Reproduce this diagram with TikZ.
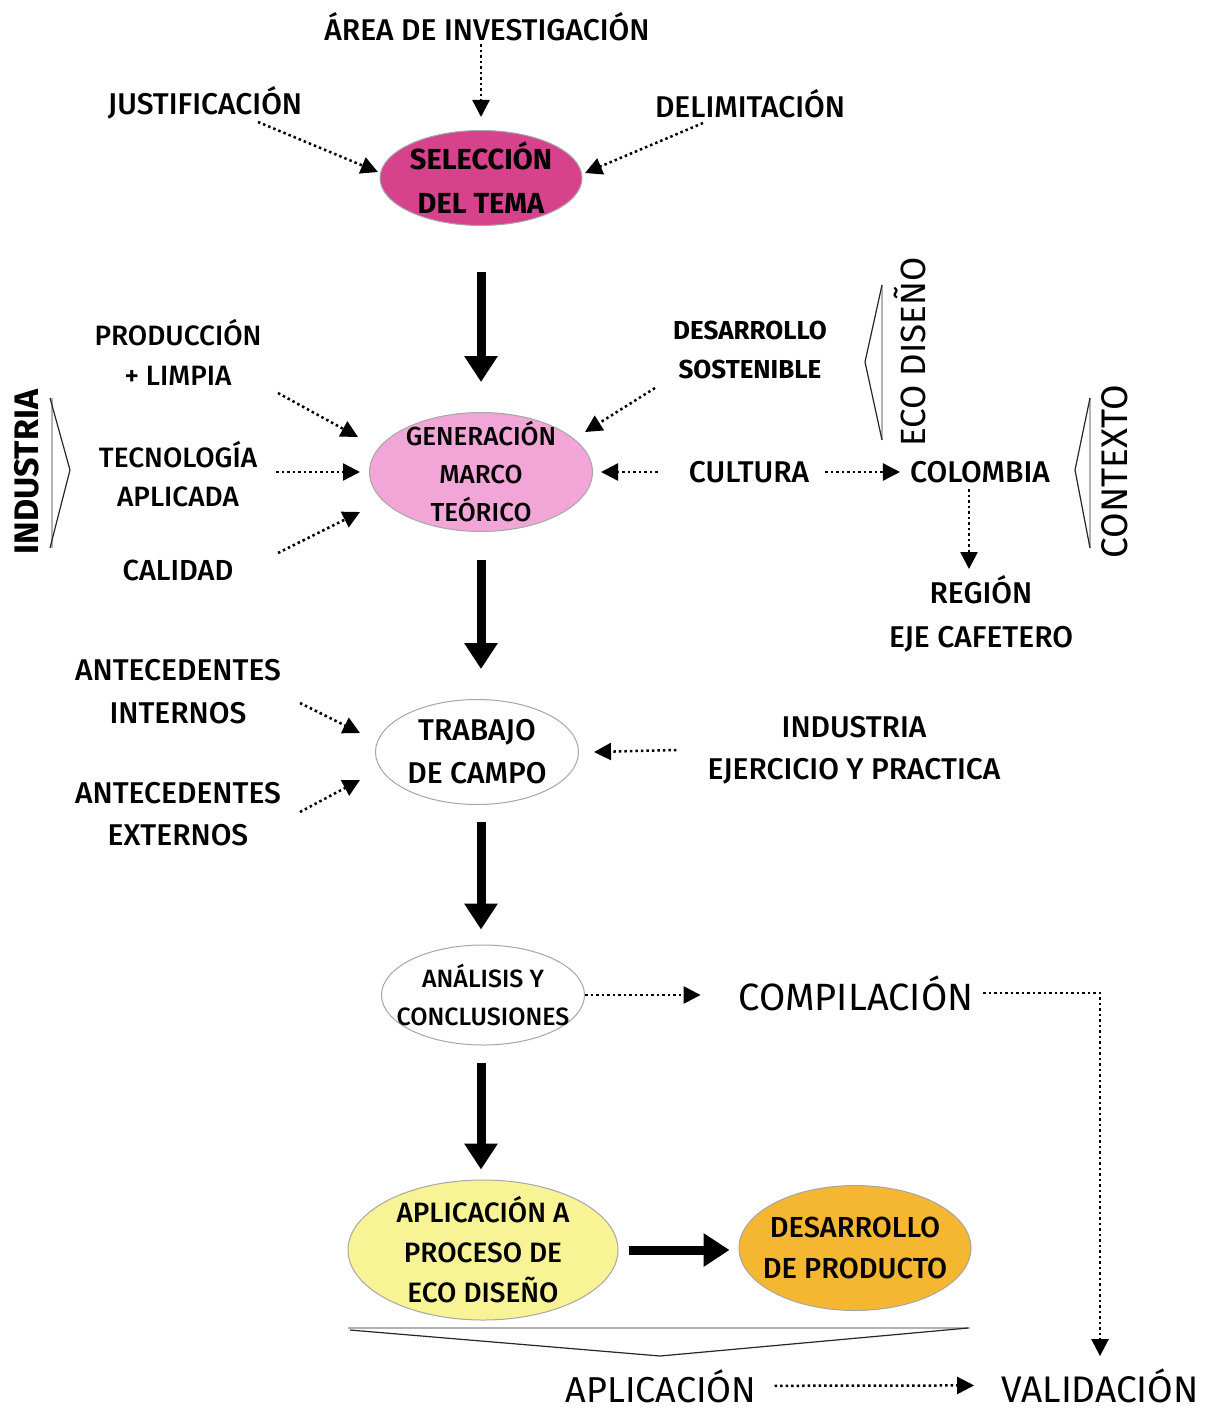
\documentclass[tikz,border=0pt]{standalone}
\usepackage{fontspec}
\setmainfont{Fira Sans}[UprightFont=* Medium, BoldFont=* Bold]
\newfontfamily\lightfont{Fira Sans}
\usetikzlibrary{shapes.geometric,arrows.meta,calc}

\definecolor{temapink}{RGB}{214,66,140}
\definecolor{marcopink}{RGB}{242,165,215}
\definecolor{ecoyellow}{RGB}{248,244,150}
\definecolor{prodorange}{RGB}{245,183,50}

\begin{document}
\begin{tikzpicture}[
x=1pt, y=-1pt,
word/.style={
font=\fontsize{30}{40}\selectfont,
align=center,
inner sep=0pt
},
boldword/.style={
font=\bfseries\fontsize{26}{39}\selectfont,
align=center,
inner sep=0pt
},
bigword/.style={
font=\lightfont\fontsize{37}{40}\selectfont,
anchor=base,
inner sep=0pt
},
sideword/.style={
font=\lightfont\fontsize{35}{35}\selectfont,
rotate=90,
inner sep=0pt
},
topic/.style={
ellipse,
draw=black!35,
line width=1pt,
align=center,
inner sep=-25pt
},
dotarrow/.style={
-{Triangle[length=17pt,width=17pt]},
line width=2.5pt,
dash pattern=on 2.5pt off 3pt
},
bigarrow/.style={
-{Triangle[length=26pt,width=32pt]},
line width=9pt
},
brace/.style={
line width=1.2pt,
draw=black!85
},
braceback/.style={
line width=1.5pt,
draw=black!30
}
]
\useasboundingbox (0,0) rectangle (1207,1410);

% selection of the topic
\node[word] (area) at (487,27) {ÁREA DE INVESTIGACIÓN};
\node[word] (just) at (205,103) {JUSTIFICACIÓN};
\node[word] (delim) at (750,104) {DELIMITACIÓN};
\node[topic, fill=temapink, minimum width=202pt, minimum height=95pt,
font=\bfseries\fontsize{29}{44}\selectfont] (sel) at (481,178)
{SELECCIÓN\\DEL TEMA};

% theoretical frame
\node[word, font=\fontsize{28}{40}\selectfont] (prod) at (178,352) {PRODUCCIÓN\\+ LIMPIA};
\node[word, font=\fontsize{28}{39}\selectfont] (tec) at (178,474) {TECNOLOGÍA\\APLICADA};
\node[word, font=\fontsize{29}{40}\selectfont] (cal) at (178,570) {CALIDAD};
\node[sideword, font=\bfseries\fontsize{34}{34}\selectfont] (industria) at (27,472) {INDUSTRIA};
\node[topic, fill=marcopink, minimum width=223pt, minimum height=119pt,
font=\fontsize{26}{38}\selectfont] (gen) at (481,472)
{GENERACIÓN\\MARCO\\TEÓRICO};
\node[boldword] (desa) at (750,350) {DESARROLLO\\SOSTENIBLE};
\node[word] (cultura) at (749,472) {CULTURA};
\node[word] (colombia) at (980,472) {COLOMBIA};
\node[word, font=\fontsize{30}{44}\selectfont] (region) at (981,614) {REGIÓN\\EJE CAFETERO};
\node[sideword] (ecodis) at (910,352) {ECO DISEÑO};
\node[sideword, font=\lightfont\fontsize{37}{37}\selectfont] (contexto) at (1115,472) {CONTEXTO};

% field work
\node[word, font=\fontsize{30}{43}\selectfont] (antint) at (178,692) {ANTECEDENTES\\INTERNOS};
\node[word, font=\fontsize{30}{42}\selectfont] (antext) at (178,814) {ANTECEDENTES\\EXTERNOS};
\node[topic, fill=white, minimum width=203pt, minimum height=105pt,
font=\fontsize{30}{43}\selectfont] (trabajo) at (477,752)
{TRABAJO\\DE CAMPO};
\node[word, font=\fontsize{30}{42}\selectfont] (practica) at (854,750) {INDUSTRIA\\EJERCICIO Y PRACTICA};

% analysis and application
\node[topic, fill=white, minimum width=203pt, minimum height=100pt,
font=\fontsize{25}{38}\selectfont] (analisis) at (483,995)
{ANÁLISIS Y\\CONCLUSIONES};
\node[bigword, font=\lightfont\fontsize{38}{40}\selectfont] (compil) at (856,1010) {COMPILACIÓN};
\node[topic, fill=ecoyellow, minimum width=270pt, minimum height=140pt,
font=\fontsize{28}{40}\selectfont] (aplic) at (483,1250)
{APLICACIÓN A\\PROCESO DE\\ECO DISEÑO};
\node[topic, fill=prodorange, minimum width=232pt, minimum height=125pt,
font=\fontsize{29}{41}\selectfont] (desprod) at (855,1248)
{DESARROLLO\\DE PRODUCTO};
\node[bigword, font=\lightfont\fontsize{36}{40}\selectfont] (aplicacion) at (661,1402) {APLICACIÓN};
\node[bigword] (valid) at (1100,1402) {VALIDACIÓN};

% brackets
\draw[braceback] (52,398) -- (52,548);
\draw[brace] (50,398) -- (70,470) -- (50,548);
\draw[braceback] (882,285) -- (882,440);
\draw[brace] (882,285) -- (865,362) -- (882,440);
\draw[braceback] (1090,398) -- (1090,548);
\draw[brace] (1090,398) -- (1075,470) -- (1090,548);
\draw[braceback] (348,1328) -- (970,1328);
\draw[brace] (350,1330) -- (660,1356) -- (968,1328);

% main flow
\draw[bigarrow, shorten <=46pt, shorten >=30pt] (sel.south) -- (gen.north);
\draw[bigarrow, shorten <=28pt, shorten >=30pt] (gen.south) -- (gen.south |- trabajo.north);
\draw[bigarrow, shorten <=17pt, shorten >=15pt] (trabajo.south -| gen.south) -- (analisis.north -| gen.south);
\draw[bigarrow, shorten <=17pt, shorten >=10pt] (analisis.south -| gen.south) -- (aplic.north -| gen.south);
\draw[bigarrow, shorten <=10pt, shorten >=9pt] (aplic.east) -- (aplic.east -| desprod.west);

% inputs
\draw[dotarrow, shorten <=3pt, shorten >=13pt] (area.south -| sel) -- (sel.north);
\draw[dotarrow] ($(just)+(53,19)$) -- ($(sel)+(-103,-6)$);
\draw[dotarrow] ($(delim)+(-47,19)$) -- ($(sel)+(104,-5)$);
\draw[dotarrow] ($(prod)+(100,41)$) -- ($(gen)+(-123,-35)$);
\draw[dotarrow] ($(tec.east |- gen)+(19,0)$) -- ($(gen.west)+(-9,0)$);
\draw[dotarrow] ($(cal)+(100,-17)$) -- ($(gen)+(-121,40)$);
\draw[dotarrow] ($(desa)+(-95,38)$) -- ($(gen)+(104,-40)$);
\draw[dotarrow] ($(cultura.west)+(-31,0)$) -- ($(gen.east)+(8,0)$);
\draw[dotarrow, shorten <=16pt, shorten >=10pt] (cultura.east) -- (colombia.west);
\draw[dotarrow] ($(colombia.south)+(-11,6)$) -- ($(colombia.south -| region.north)+(-12,86)$);
\draw[dotarrow] ($(antint)+(122,11)$) -- ($(trabajo)+(-117,-19)$);
\draw[dotarrow] ($(antext)+(122,-2)$) -- ($(trabajo)+(-117,28)$);
\draw[dotarrow] ($(practica.west)+(-31,0)$) -- ($(trabajo.east)+(15,0)$);

% outputs
\draw[dotarrow, shorten >=38pt] (analisis.east) -- (analisis.east -| compil.west);
\draw[dotarrow, shorten <=10pt, shorten >=12pt] (compil.east) -| (valid.north);
\draw[dotarrow, shorten <=18pt, shorten >=27pt] (aplicacion.east) -- (valid.west);

\end{tikzpicture}
\end{document}
